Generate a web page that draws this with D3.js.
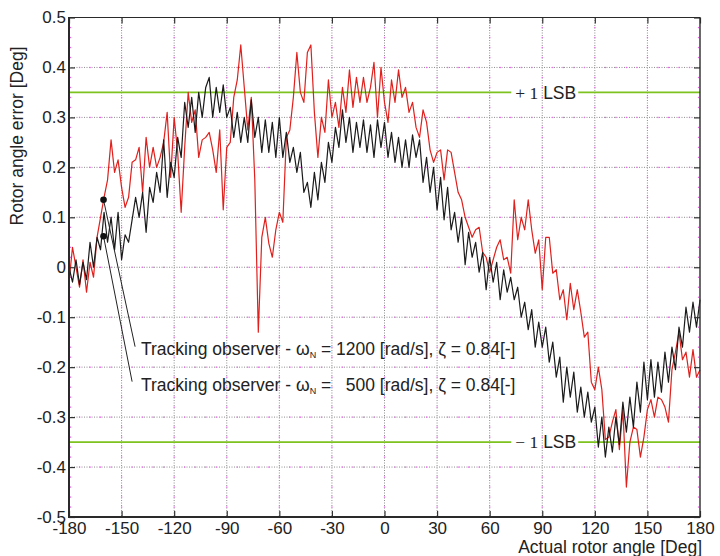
<!DOCTYPE html>
<html>
<head>
<meta charset="utf-8">
<script src="https://cdn.jsdelivr.net/npm/d3@7"></script>
<style>
  body { margin: 0; background: #fff; }
  svg { display: block; }
  text { font-family: "Liberation Sans", Arial, sans-serif; fill: #222; }
</style>
</head>
<body>
<svg id="chart" width="720" height="556"></svg>
<script>
// Sampling grid of the actual rotor angle [deg]
const angles = d3.range(-180, 181, 2);

// Rotor angle error [deg], tracking observer ωN = 1200 rad/s (red)
const errFast = [
  -0.03, 0.04, 0.0, -0.04, 0.015, -0.05, 0.01, -0.02, 0.06, 0.1,          // -180..-162
  0.14, 0.175, 0.255, 0.19, 0.215, 0.16, 0.12, 0.14, 0.21, 0.215,         // -160..-142
  0.24, 0.15, 0.26, 0.2, 0.24, 0.2, 0.22, 0.25, 0.31, 0.18,               // -140..-122
  0.3, 0.23, 0.11, 0.24, 0.35, 0.29, 0.315, 0.22, 0.255, 0.26,            // -120..-102
  0.27, 0.235, 0.19, 0.275, 0.115, 0.24, 0.25, 0.34, 0.375, 0.445,        // -100..-82
  0.36, 0.275, 0.34, 0.175, -0.13, 0.06, 0.1, 0.048, 0.02, 0.075,         // -80..-62
  0.11, 0.09, 0.26, 0.275, 0.34, 0.43, 0.35, 0.33, 0.43, 0.445,           // -60..-42
  0.31, 0.22, 0.3, 0.27, 0.375, 0.3, 0.33, 0.28, 0.36, 0.31,              // -40..-22
  0.395, 0.32, 0.38, 0.33, 0.38, 0.33, 0.36, 0.41, 0.3, 0.4,              // -20..-2
  0.33, 0.29, 0.375, 0.33, 0.395, 0.34, 0.36, 0.31, 0.33, 0.28,           // 0..18
  0.26, 0.315, 0.29, 0.235, 0.21, 0.23, 0.235, 0.175, 0.235, 0.23,        // 20..38
  0.19, 0.15, 0.135, 0.1, 0.08, 0.06, 0.075, 0.08, 0.03, 0.02,            // 40..58
  -0.01, 0.015, 0.04, 0.055, 0.015, 0.02, -0.012, 0.135, 0.055, 0.1,      // 60..78
  0.075, 0.135, 0.075, 0.028, 0.055, -0.045, 0.06, 0.06, -0.012, -0.005,  // 80..98
  -0.065, -0.045, -0.105, -0.032, -0.085, -0.045, -0.09, -0.14, -0.13, -0.23, // 100..118
  -0.245, -0.2, -0.245, -0.345, -0.34, -0.31, -0.285, -0.365, -0.285, -0.44,  // 120..138
  -0.35, -0.32, -0.325, -0.38, -0.34, -0.285, -0.265, -0.3, -0.26, -0.265,    // 140..158
  -0.28, -0.31, -0.205, -0.17, -0.13, -0.185, -0.17, -0.22, -0.165, -0.22,    // 160..178
  -0.205                                                                       // 180
];

// Rotor angle error [deg], tracking observer ωN = 500 rad/s (black)
const errSlow = [
  0.0, -0.03, 0.015, -0.035, 0.01, -0.025, 0.05, 0.0, 0.06, 0.035,        // -180..-162
  0.11, 0.05, 0.1, 0.035, 0.11, 0.015, 0.065, 0.05, 0.095, 0.14,         // -160..-142
  0.1, 0.15, 0.07, 0.16, 0.13, 0.19, 0.15, 0.255, 0.14, 0.21,             // -140..-122
  0.18, 0.26, 0.22, 0.33, 0.28, 0.34, 0.27, 0.35, 0.3, 0.36,              // -120..-102
  0.38, 0.3, 0.36, 0.31, 0.365, 0.3, 0.32, 0.26, 0.31, 0.25,              // -100..-82
  0.3, 0.25, 0.335, 0.26, 0.3, 0.23, 0.295, 0.23, 0.29, 0.22,             // -80..-62
  0.3, 0.22, 0.27, 0.21, 0.24, 0.19, 0.23, 0.15, 0.17, 0.12,              // -60..-42
  0.19, 0.135, 0.21, 0.17, 0.25, 0.21, 0.28, 0.24, 0.315, 0.25,           // -40..-22
  0.3, 0.23, 0.29, 0.24, 0.295, 0.23, 0.285, 0.22, 0.295, 0.24,           // -20..-2
  0.29, 0.22, 0.27, 0.21, 0.26, 0.2, 0.255, 0.2, 0.265, 0.22,             // 0..18
  0.255, 0.17, 0.22, 0.15, 0.2, 0.115, 0.18, 0.095, 0.16, 0.075,          // 20..38
  0.11, 0.05, 0.1, 0.005, 0.07, 0.02, 0.05, -0.01, 0.03, -0.045,          // 40..58
  0.02, -0.03, 0.01, -0.065, -0.005, -0.05, -0.02, -0.065, -0.04, -0.1,   // 60..78
  -0.07, -0.125, -0.085, -0.16, -0.11, -0.16, -0.12, -0.19, -0.15, -0.22, // 80..98
  -0.18, -0.27, -0.2, -0.26, -0.21, -0.29, -0.24, -0.3, -0.25, -0.31,     // 100..118
  -0.28, -0.36, -0.3, -0.38, -0.32, -0.37, -0.3, -0.355, -0.27, -0.33,    // 120..138
  -0.26, -0.32, -0.23, -0.29, -0.19, -0.265, -0.185, -0.26, -0.19, -0.25, // 140..158
  -0.17, -0.23, -0.16, -0.205, -0.12, -0.16, -0.08, -0.13, -0.07, -0.12,  // 160..178
  -0.065                                                                   // 180
];

const xTicks = [-180, -150, -120, -90, -60, -30, 0, 30, 60, 90, 120, 150, 180];
const yTicks = [-0.5, -0.4, -0.3, -0.2, -0.1, 0, 0.1, 0.2, 0.3, 0.4, 0.5];
const xMinorStep = 6;     // deg
const yMinorStep = 0.02;  // deg
const lsbLevel = 0.35;
const lsbLabelAngle = 92;

const seriesNames = ["1200", "500"];
// label anchor points on the curves and where the leader lines end
const legendDots = [[-160.3, 0.135], [-160.3, 0.062]];
const legendEnds = [[-142.3, -0.159], [-144.0, -0.229]];

const FONT = 17.5;
const TICK_FONT = 17;
const svg = d3.select("#chart");
const x = d3.scaleLinear().domain([-180, 180]).range([69, 700]);
const y = d3.scaleLinear().domain([-0.5, 0.5]).range([517, 17.5]);
const [x0, x1] = x.range();
const [y0, y1] = y.range();

// dotted grid
const grid = svg.append("g");
grid.selectAll("line.gv").data(xTicks.slice(1, -1)).join("line")
  .attr("x1", d => x(d)).attr("x2", d => x(d))
  .attr("y1", y1).attr("y2", y0)
  .attr("stroke", "#8e8e8e").attr("stroke-width", 1)
  .attr("stroke-dasharray", "1,1.5");
grid.selectAll("line.gh").data(yTicks.slice(1, -1)).join("line")
  .attr("x1", x0).attr("x2", x1)
  .attr("y1", d => y(d)).attr("y2", d => y(d))
  .attr("stroke", "#8e8e8e").attr("stroke-width", 1)
  .attr("stroke-dasharray", "1,1.5");

// minor positions marked along the grid lines
const yMinor = d3.range(-0.5, 0.5001, yMinorStep).filter(v => Math.abs(v * 10 - Math.round(v * 10)) > 1e-6);
const xMinor = d3.range(-180, 180.001, xMinorStep).filter(v => v % 30 !== 0);
const minorPts = [];
xTicks.forEach(t => yMinor.forEach(v => minorPts.push([x(t) + (t === -180 ? 1.5 : t === 180 ? -1.5 : 0), y(v)])));
yTicks.slice(1, -1).forEach(t => xMinor.forEach(v => minorPts.push([x(v), y(t)])));
grid.selectAll("rect.mn").data(minorPts).join("rect")
  .attr("x", d => d[0] - 0.6).attr("y", d => d[1] - 0.6)
  .attr("width", 1.3).attr("height", 1.3)
  .attr("fill", "#e86ae8");

// ±1 LSB reference lines with labels
const lsbG = svg.append("g");
[lsbLevel, -lsbLevel].forEach(level => {
  const t = lsbG.append("text")
    .attr("x", x(lsbLabelAngle)).attr("y", y(level))
    .attr("dy", "0.36em")
    .attr("text-anchor", "middle")
    .attr("font-size", FONT);
  t.append("tspan").attr("font-family", "'Liberation Serif', 'Times New Roman', serif")
    .text(level > 0 ? "+ 1" : "\u2212 1");
  t.append("tspan").text(" LSB");
  const bb = t.node().getBBox();
  lsbG.append("line")
    .attr("x1", x0).attr("x2", bb.x - 4)
    .attr("y1", y(level)).attr("y2", y(level))
    .attr("stroke", "#7dc21e").attr("stroke-width", 1.8);
  lsbG.append("line")
    .attr("x1", bb.x + bb.width + 2).attr("x2", x1)
    .attr("y1", y(level)).attr("y2", y(level))
    .attr("stroke", "#7dc21e").attr("stroke-width", 1.8);
});

// error curves
const line = d3.line().x((d, i) => x(angles[i])).y(d => y(d));
const curves = svg.append("g").attr("fill", "none").attr("stroke-linejoin", "round");
curves.append("path").datum(errFast).attr("d", line)
  .attr("stroke", "#e0201c").attr("stroke-width", 1.2);
curves.append("path").datum(errSlow).attr("d", line)
  .attr("stroke", "#1b1b1b").attr("stroke-width", 1.2);

// axes with inward ticks
const fmtY = d => d === 0 ? "0" : d.toFixed(1);
const axB = svg.append("g").attr("transform", `translate(0,${y0})`)
  .call(d3.axisBottom(x).tickValues(xTicks).tickSize(-6).tickPadding(5).tickFormat(d => String(d)));
const axL = svg.append("g").attr("transform", `translate(${x0},0)`)
  .call(d3.axisLeft(y).tickValues(yTicks).tickSize(-6).tickPadding(3).tickFormat(fmtY));
const axT = svg.append("g").attr("transform", `translate(0,${y1})`)
  .call(d3.axisTop(x).tickValues(xTicks).tickSize(-6).tickFormat(""));
const axR = svg.append("g").attr("transform", `translate(${x1},0)`)
  .call(d3.axisRight(y).tickValues(yTicks).tickSize(-6).tickFormat(""));
[axB, axL, axT, axR].forEach(a => {
  a.select(".domain").remove();
  a.selectAll(".tick line").attr("stroke", "#333").attr("stroke-width", 1.2);
  a.selectAll(".tick text").attr("font-size", TICK_FONT).attr("fill", "#222")
    .attr("font-family", "'Liberation Sans', Arial, sans-serif");
});

// frame
const frame = svg.append("g").attr("stroke", "#2a2a2a").attr("fill", "none");
frame.append("line").attr("x1", x0).attr("x2", x1).attr("y1", y1).attr("y2", y1).attr("stroke-width", 1.2);
frame.append("line").attr("x1", x1).attr("x2", x1).attr("y1", y1).attr("y2", y0).attr("stroke-width", 1.4);
frame.append("line").attr("x1", x0).attr("x2", x0).attr("y1", y1 - 0.5).attr("y2", y0 + 1).attr("stroke-width", 2);
frame.append("line").attr("x1", x0 - 1).attr("x2", x1 + 0.5).attr("y1", y0).attr("y2", y0).attr("stroke-width", 2);

// leader lines and dots for the curve labels
const lab = svg.append("g");
legendDots.forEach((p, i) => {
  lab.append("line")
    .attr("x1", x(p[0])).attr("y1", y(p[1]))
    .attr("x2", x(legendEnds[i][0])).attr("y2", y(legendEnds[i][1]))
    .attr("stroke", "#222").attr("stroke-width", 1);
  lab.append("circle").attr("cx", x(p[0])).attr("cy", y(p[1])).attr("r", 3.3).attr("fill", "#111");
});
const labelY = [355, 391];
seriesNames.forEach((n, i) => {
  const t = lab.append("text").attr("x", 141).attr("y", labelY[i])
    .attr("font-size", FONT).attr("xml:space", "preserve").style("white-space", "pre");
  t.append("tspan").text("Tracking observer - \u03C9");
  t.append("tspan").attr("font-size", 9).attr("dy", 3).text("N");
  t.append("tspan").attr("dy", -3).text(i === 0 ? ` = ${n} [rad/s], \u03B6 = 0.84[-]` : ` =   ${n} [rad/s], \u03B6 = 0.84[-]`);
});

// axis titles
svg.append("text")
  .attr("transform", "translate(23,136) rotate(-90)")
  .attr("text-anchor", "middle").attr("font-size", FONT)
  .text("Rotor angle error [Deg]");
svg.append("text")
  .attr("x", 702).attr("y", 553)
  .attr("text-anchor", "end").attr("font-size", FONT)
  .text("Actual rotor angle [Deg]");
</script>
</body>
</html>
